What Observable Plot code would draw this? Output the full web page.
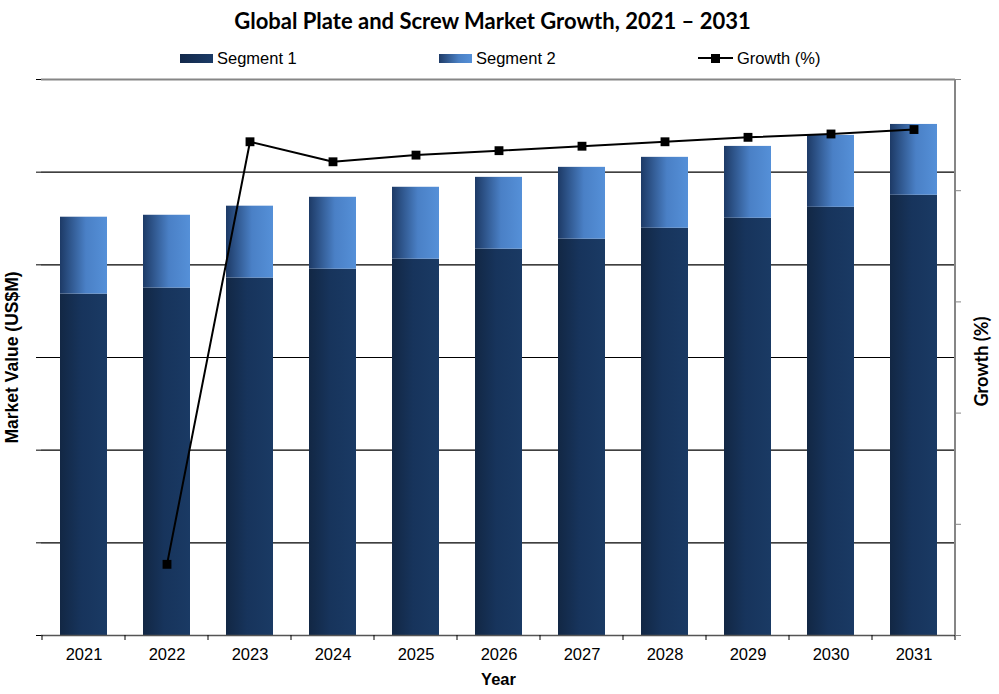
<!DOCTYPE html>
<html>
<head>
<meta charset="utf-8">
<script src="https://cdn.jsdelivr.net/npm/d3@7"></script>
<script src="https://cdn.jsdelivr.net/npm/@observablehq/plot@0.6"></script>
<style>
  body { margin: 0; background: #fff; font-family: "Liberation Sans", Arial, sans-serif; }
  #wrap { width: 999px; position: relative; }
  #title { height: 38px; line-height: 42px; text-align: center; font-family: Lato, "Open Sans", sans-serif; font-weight: 700; font-size: 22px; color: #000; padding-right: 14px; }
  #legend { height: 32px; position: relative; font-size: 16.5px; color: #000; }
  .item { position: absolute; top: 4px; height: 32px; display: flex; align-items: center; }
  .sw { display: inline-block; width: 33px; height: 9px; margin-right: 4px; }
  .ln { position: relative; display: inline-block; width: 35px; height: 9px; margin-right: 4px; }
  .ln::before { content: ""; position: absolute; left: 0; right: 0; top: 3.5px; height: 2px; background: #000; }
  .ln::after { content: ""; position: absolute; left: 13px; top: 0; width: 9px; height: 9px; background: #000; }
  svg { display: block; }
</style>
</head>
<body>
<div id="wrap">
  <div id="title">Global Plate and Screw Market Growth, 2021 – 2031</div>
  <div id="legend">
    <div class="item" style="left:180px"><span class="sw" style="background:linear-gradient(to right,#13294a,#1a3a66)"></span>Segment 1</div>
    <div class="item" style="left:439px"><span class="sw" style="background:linear-gradient(to right,#1f3c68,#4a80c4 60%,#5590d8)"></span>Segment 2</div>
    <div class="item" style="left:698px"><span class="ln"></span>Growth (%)</div>
  </div>
  <div id="chart"></div>
</div>
<script>
// ---- data ----
const years = ["2021","2022","2023","2024","2025","2026","2027","2028","2029","2030","2031"];
const segment1 = [3684, 3749, 3857, 3953, 4061, 4169, 4277, 4395, 4503, 4621, 4751];
const segment2 = [830, 786, 776, 776, 776, 775, 775, 765, 775, 776, 764];
const growth = [null, 0.64, 4.44, 4.26, 4.32, 4.36, 4.40, 4.44, 4.48, 4.51, 4.55];
const leftTicks = [0, 1000, 2000, 3000, 4000, 5000, 6000];
const rightTicks = [0, 1, 2, 3, 4, 5];

const rows = years.map((year, i) => ({year, s1: segment1[i], s2: segment2[i], growth: growth[i]}));
const growthRows = rows.filter(d => d.growth != null);

// right (growth) axis mapped onto the left value scale
const toLeft = d3.scaleLinear([0, 5], [0, 6000]);

// tick marks at the band boundaries plus the right frame border
function bandEdges(index, scales, values, dims) {
  const x = scales.x;
  const bw = typeof x.bandwidth === "function" ? x.bandwidth() : x.bandwidth;
  const step = x(years[1]) - x(years[0]);
  const edges = years.map(y => x(y) - (step - bw) / 2);
  edges.push(x(years[years.length - 1]) + bw + (step - bw) / 2);
  const y0 = dims.height - dims.marginBottom;
  const g = d3.create("svg:g");
  g.selectAll("line.e").data(edges).join("line")
    .attr("x1", d => d).attr("x2", d => d)
    .attr("y1", y0).attr("y2", y0 + 5)
    .attr("stroke", "#000").attr("stroke-width", 1);
  const xr = dims.width - dims.marginRight;
  g.append("line")
    .attr("x1", xr).attr("x2", xr)
    .attr("y1", dims.marginTop).attr("y2", y0)
    .attr("stroke", "#868686").attr("stroke-width", 2);
  return g.node();
}

const chart = Plot.plot({
  width: 999,
  height: 624,
  marginTop: 9,
  marginBottom: 59,
  marginLeft: 41,
  marginRight: 44,
  style: {fontFamily: '"Liberation Sans", Arial, sans-serif', fontSize: "16.5px", color: "#000", background: "#fff"},
  x: {type: "band", domain: years, paddingInner: 0.435, paddingOuter: 0.2175, label: null},
  y: {domain: [0, 6000], label: null},
  marks: [
    Plot.ruleY([1000, 2000, 3000, 4000, 5000], {stroke: "#000", strokeWidth: 1.2}),
    Plot.barY(rows, {x: "year", y1: 0, y2: "s1", fill: "url(#gradSeg1)", inset: 0}),
    Plot.barY(rows, {x: "year", y1: "s1", y2: d => d.s1 + d.s2, fill: "url(#gradSeg2)", inset: 0}),
    Plot.ruleY([6000], {stroke: "#868686", strokeWidth: 2}),
    Plot.axisY(leftTicks, {anchor: "left", tickSize: 5, tickFormat: () => "", stroke: "#000", label: null}),
    Plot.ruleY([0], {stroke: "#555", strokeWidth: 1.5}),
    Plot.axisY(rightTicks.map(t => toLeft(t)), {anchor: "right", tickSize: 5, tickFormat: () => "", stroke: "#868686", label: null}),
    Plot.axisX({anchor: "bottom", tickSize: 0, tickPadding: 13, label: null, fontSize: "16.5px"}),
    bandEdges,
    Plot.line(growthRows, {x: "year", y: d => toLeft(d.growth), stroke: "#000", strokeWidth: 2}),
    Plot.dot(growthRows, {x: "year", y: d => toLeft(d.growth), symbol: "square", r: 5, fill: "#000", stroke: "none"}),
    Plot.text(["Market Value (US$M)"], {frameAnchor: "left", dx: -29, rotate: -90, textAnchor: "middle", fontWeight: "bold", fontSize: 17.5, fill: "#000"}),
    Plot.text(["Growth (%)"], {frameAnchor: "right", dx: 27, dy: 4, rotate: -90, textAnchor: "middle", fontWeight: "bold", fontSize: 18, fontFamily: "Lato, 'Open Sans', sans-serif", fill: "#000"}),
    Plot.text(["Year"], {frameAnchor: "bottom", dy: 49, fontWeight: "bold", fontSize: 16.5, fill: "#000"})
  ]
});

// gradient definitions for the bar fills
const defs = document.createElementNS("http://www.w3.org/2000/svg", "defs");
defs.innerHTML = `
  <linearGradient id="gradSeg1" x1="0" x2="1" y1="0" y2="0">
    <stop offset="0" stop-color="#122744"/>
    <stop offset="0.45" stop-color="#17345c"/>
    <stop offset="1" stop-color="#1a3a64"/>
  </linearGradient>
  <linearGradient id="gradSeg2" x1="0" x2="1" y1="0" y2="0">
    <stop offset="0" stop-color="#1d3a66"/>
    <stop offset="0.55" stop-color="#4a80c6"/>
    <stop offset="1" stop-color="#5590d8"/>
  </linearGradient>`;
chart.insertBefore(defs, chart.firstChild);
document.getElementById("chart").appendChild(chart);
</script>
</body>
</html>
